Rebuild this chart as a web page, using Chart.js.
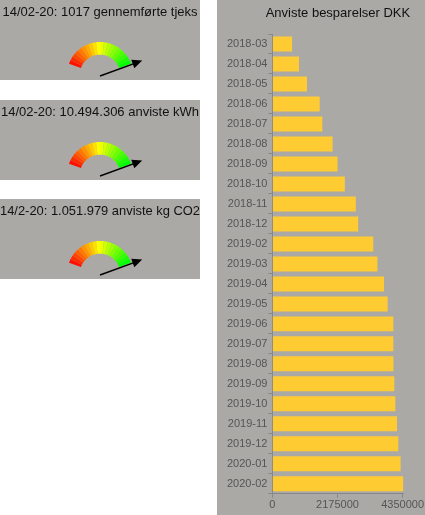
<!DOCTYPE html>
<html>
<head>
<meta charset="utf-8">
<script src="https://cdn.jsdelivr.net/npm/chart.js@4.4.1/dist/chart.umd.min.js"></script>
<style>
  body { margin: 0; background: #fff; }
  .panel { position: absolute; background: #aba9a6; }
</style>
</head>
<body>
<div class="panel" style="left:0;top:0;width:200px;height:80px"><canvas id="g0"></canvas></div>
<div class="panel" style="left:0;top:100px;width:200px;height:80px"><canvas id="g1"></canvas></div>
<div class="panel" style="left:0;top:199px;width:200px;height:80px"><canvas id="g2"></canvas></div>
<div class="panel" style="left:217px;top:0;width:208px;height:515px"><canvas id="bars"></canvas></div>
<script>
// gauge panels
const gaugeTitles = [
    "14/02-20: 1017 gennemførte tjeks",
    "14/02-20: 10.494.306 anviste kWh",
    "14/2-20: 1.051.979 anviste kg CO2"
];
const gaugeSteps = [1, 1, 1, 1, 1, 1, 1, 1, 1, 1, 1, 1, 1, 1, 1, 1, 1, 1, 1, 1];
const needleValues = [100, 100, 100];
const gaugeMax = 100;

// bar chart
const barTitle = "Anviste besparelser DKK";
const months = ["2018-03", "2018-04", "2018-05", "2018-06", "2018-07", "2018-08", "2018-09",
    "2018-10", "2018-11", "2018-12", "2019-02", "2019-03", "2019-04", "2019-05", "2019-06",
    "2019-07", "2019-08", "2019-09", "2019-10", "2019-11", "2019-12", "2020-01", "2020-02"];
const savings = [659000, 891000, 1157000, 1580000, 1669000, 2012000, 2178000,
    2421000, 2787000, 2867000, 3369000, 3509000, 3731000, 3851000, 4041000,
    4041000, 4045000, 4074000, 4107000, 4164000, 4207000, 4283000, 4373000];
const xTicks = [0, 2175000, 4350000];

Chart.defaults.font.family = '"Liberation Sans", Arial, sans-serif';
Chart.defaults.animation = false;

// draws the arrow from the gauge centre
const needlePlugin = {
    id: 'needle',
    afterDatasetsDraw(chart, args, opts) {
        const arcs = chart.getDatasetMeta(0).data;
        const first = arcs[0], last = arcs[arcs.length - 1];
        const a = first.startAngle + (last.endAngle - first.startAngle) * opts.value / opts.max;
        const len = first.outerRadius * 1.36;
        const ctx = chart.ctx;
        ctx.save();
        ctx.translate(first.x, first.y + 1);
        ctx.rotate(a);
        ctx.strokeStyle = '#000';
        ctx.fillStyle = '#000';
        ctx.lineWidth = 1.5;
        ctx.beginPath();
        ctx.moveTo(0, 0);
        ctx.lineTo(len - 8, 0);
        ctx.stroke();
        ctx.beginPath();
        ctx.moveTo(len, 0);
        ctx.lineTo(len - 10, -4.5);
        ctx.lineTo(len - 10, 4.5);
        ctx.closePath();
        ctx.fill();
        ctx.restore();
    }
};

// title centred over the plot area (the built-in one squeezes the text)
const areaTitle = {
    id: 'areaTitle',
    afterDraw(chart, args, opts) {
        const ctx = chart.ctx, area = chart.chartArea;
        ctx.save();
        ctx.font = opts.size + 'px "Liberation Sans", Arial, sans-serif';
        ctx.fillStyle = opts.color;
        ctx.textAlign = 'center';
        ctx.textBaseline = 'middle';
        ctx.fillText(opts.text, (area.left + area.right) / 2, opts.y);
        ctx.restore();
    }
};

gaugeTitles.forEach(function (title, i) {
    new Chart(document.getElementById('g' + i), {
        type: 'doughnut',
        data: {
            labels: gaugeSteps.map((_, k) => 'step ' + (k + 1)),
            datasets: [{
                data: gaugeSteps,
                backgroundColor: gaugeSteps.map((_, k) => 'hsl(' + (4 + k * 116 / (gaugeSteps.length - 1)) + ',100%,50%)'),
                borderWidth: 0
            }]
        },
        options: {
            responsive: true,
            maintainAspectRatio: false,
            rotation: -70,
            circumference: 140,
            cutout: '61.5%',
            radius: 33,
            events: [],
            plugins: {
                legend: { display: false },
                tooltip: { enabled: false },
                title: {
                    display: true,
                    text: title,
                    color: '#111',
                    font: { size: 13, weight: 'normal' },
                    padding: { top: 5, bottom: 9.4 }
                },
                needle: { value: needleValues[i], max: gaugeMax }
            }
        },
        plugins: [needlePlugin]
    });
});

new Chart(document.getElementById('bars'), {
    type: 'bar',
    data: {
        labels: months,
        datasets: [{
            data: savings,
            backgroundColor: '#ffcb32',
            barPercentage: 0.75,
            categoryPercentage: 1
        }]
    },
    options: {
        indexAxis: 'y',
        responsive: true,
        maintainAspectRatio: false,
        events: [],
        layout: { padding: { left: 9, bottom: 2, top: 34 } },
        plugins: {
            legend: { display: false },
            tooltip: { enabled: false },
            areaTitle: { text: barTitle, size: 13, color: '#111', y: 13 }
        },
        scales: {
            x: {
                min: 0,
                max: 4380000,
                afterBuildTicks: function (scale) {
                    scale.ticks = xTicks.map(v => ({ value: v }));
                },
                grid: { drawOnChartArea: false, tickLength: 4, color: '#888' },
                border: { color: '#888' },
                ticks: { color: '#555', font: { size: 11 }, padding: 1, maxRotation: 0,
                    callback: v => String(v) }
            },
            y: {
                grid: { drawOnChartArea: false, tickLength: 4, color: '#888' },
                border: { color: '#888' },
                ticks: { color: '#555', font: { size: 11 }, padding: 1, autoSkip: false }
            }
        }
    },
    plugins: [areaTitle]
});
</script>
</body>
</html>
